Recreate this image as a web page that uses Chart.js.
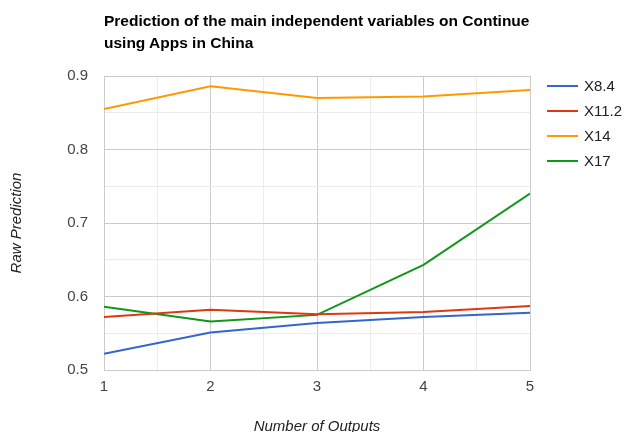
<!DOCTYPE html>
<html>
<head>
<meta charset="utf-8">
<script src="https://cdn.jsdelivr.net/npm/chart.js@4"></script>
<style>
  html, body { margin: 0; padding: 0; background: #fff; overflow: hidden; }
  #wrap { position: relative; width: 625px; height: 438px; }
  #title { position: absolute; left: 104px; top: 10px; width: 470px; font: bold 15.5px "Liberation Sans", Arial, sans-serif; line-height: 22px; color: #000; }
  #legend { position: absolute; left: 547px; top: 73px; font: 15px "Liberation Sans", Arial, sans-serif; color: #222; }
  #legend div { height: 25px; display: flex; align-items: center; }
  #legend span.sw { display: inline-block; width: 31px; height: 2px; margin-right: 6px; }
</style>
</head>
<body>
<div id="wrap">
  <canvas id="myChart" width="625" height="438"></canvas>
  <div id="title">Prediction of the main independent variables on Continue<br>using Apps in China</div>
  <div id="legend"></div>
</div>
<script>
  // data
  var outputs = [1, 2, 3, 4, 5];
  var seriesNames = ['X8.4', 'X11.2', 'X14', 'X17'];
  var x84 = [0.522, 0.551, 0.564, 0.572, 0.578];
  var x112 = [0.572, 0.582, 0.576, 0.579, 0.587];
  var x14 = [0.855, 0.886, 0.870, 0.872, 0.881];
  var x17 = [0.586, 0.566, 0.575, 0.643, 0.740];
  var colors = ['#3366cc', '#dc3912', '#ff9900', '#109618'];

  var allSeries = [x84, x112, x14, x17];

  function isMajor(v, step) {
    var r = v / step;
    return Math.abs(r - Math.round(r)) < 1e-6;
  }

  var ctx = document.getElementById('myChart').getContext('2d');
  var myChart = new Chart(ctx, {
    type: 'line',
    data: {
      datasets: allSeries.map(function (vals, i) {
        return {
          label: seriesNames[i],
          data: vals.map(function (v, j) { return { x: outputs[j], y: v }; }),
          borderColor: colors[i],
          backgroundColor: colors[i],
          borderWidth: 2,
          pointRadius: 0,
          tension: 0
        };
      })
    },
    options: {
      responsive: false,
      animation: false,
      layout: { padding: { left: 0, right: 95, top: 76, bottom: 0 } },
      plugins: { legend: { display: false }, title: { display: false }, tooltip: { enabled: false } },
      scales: {
        x: {
          type: 'linear',
          min: 1, max: 5,
          afterFit: function (s) { s.height = 438 - 370; },
          ticks: {
            stepSize: 0.5, autoSkip: false, maxRotation: 0, padding: 8,
            color: '#444', font: { family: 'Liberation Sans', size: 15 },
            callback: function (v) { return isMajor(v, 1) ? String(v) : ''; }
          },
          grid: {
            drawTicks: false,
            color: function (c) { return c.tick && isMajor(c.tick.value, 1) ? '#cccccc' : '#ebebeb'; }
          },
          border: { color: '#cccccc' },
          title: {
            display: true, text: 'Number of Outputs', color: '#222',
            font: { family: 'Liberation Sans', size: 15, style: 'italic' },
            padding: { top: 0, bottom: 2 }
          }
        },
        y: {
          min: 0.5, max: 0.9,
          afterFit: function (s) { s.width = 104; },
          ticks: {
            stepSize: 0.05, padding: 16,
            color: '#444', font: { family: 'Liberation Sans', size: 15 },
            callback: function (v) { return isMajor(v, 0.1) ? v.toFixed(1) : ''; }
          },
          grid: {
            drawTicks: false,
            color: function (c) { return c.tick && isMajor(c.tick.value, 0.1) ? '#cccccc' : '#ebebeb'; }
          },
          border: { color: '#cccccc' },
          title: {
            display: true, text: 'Raw Prediction', color: '#222',
            font: { family: 'Liberation Sans', size: 15, style: 'italic' },
            padding: { top: 8, bottom: 0 }
          }
        }
      }
    }
  });

  // legend as text
  var leg = document.getElementById('legend');
  seriesNames.forEach(function (name, i) {
    var row = document.createElement('div');
    var sw = document.createElement('span');
    sw.className = 'sw';
    sw.style.background = colors[i];
    row.appendChild(sw);
    row.appendChild(document.createTextNode(name));
    leg.appendChild(row);
  });
</script>
</body>
</html>
